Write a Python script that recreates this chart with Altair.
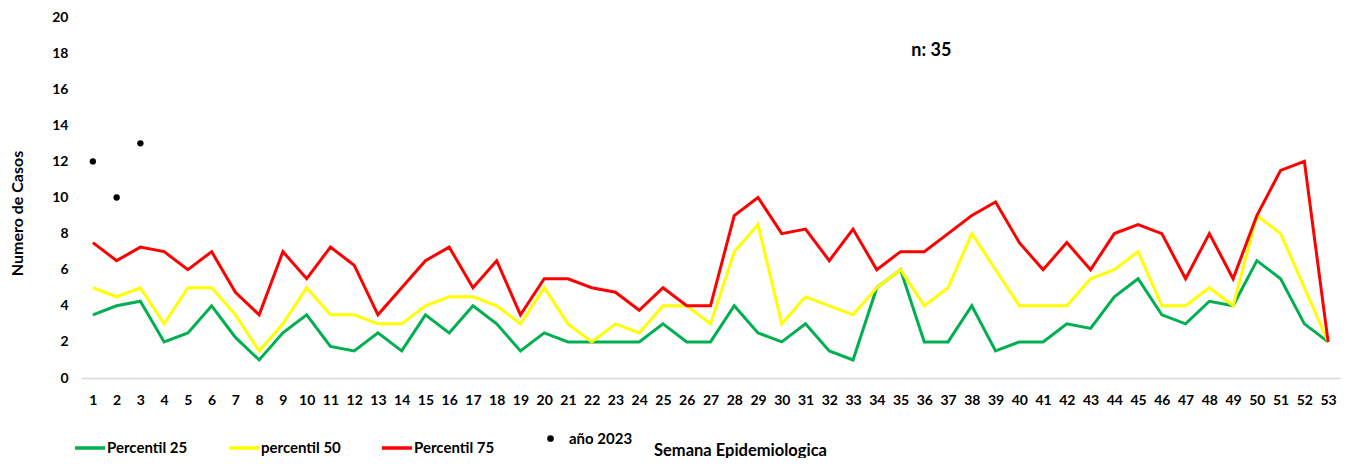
import altair as alt
import pandas as pd

FONT = "Lato"

weeks = list(range(1, 54))
p25 = [3.5, 4, 4.25, 2, 2.5, 4, 2.25, 1, 2.5, 3.5, 1.75, 1.5, 2.5, 1.5, 3.5, 2.5, 4, 3, 1.5, 2.5,
       2, 2, 2, 2, 3, 2, 2, 4, 2.5, 2, 3, 1.5, 1, 5, 6, 2, 2, 4, 1.5, 2,
       2, 3, 2.75, 4.5, 5.5, 3.5, 3, 4.25, 4, 6.5, 5.5, 3, 2]
p50 = [5, 4.5, 5, 3, 5, 5, 3.5, 1.5, 3, 5, 3.5, 3.5, 3, 3, 4, 4.5, 4.5, 4, 3, 5,
       3, 2, 3, 2.5, 4, 4, 3, 7, 8.5, 3, 4.5, 4, 3.5, 5, 6, 4, 5, 8, 6, 4,
       4, 4, 5.5, 6, 7, 4, 4, 5, 4, 9, 8, 5, 2]
p75 = [7.5, 6.5, 7.25, 7, 6, 7, 4.75, 3.5, 7, 5.5, 7.25, 6.25, 3.5, 5, 6.5, 7.25, 5, 6.5, 3.5, 5.5,
       5.5, 5, 4.75, 3.75, 5, 4, 4, 9, 10, 8, 8.25, 6.5, 8.25, 6, 7, 7, 8, 9, 9.75, 7.5,
       6, 7.5, 6, 8, 8.5, 8, 5.5, 8, 5.5, 9, 11.5, 12, 2]
weeks_2023 = [1, 2, 3]
cases_2023 = [12, 10, 13]

line_names = ["Percentil 25", "percentil 50", "Percentil 75"]
line_colors = ["#00b050", "#ffff00", "#ff0000"]
point_name = "año 2023"
week_labels = [str(w) for w in weeks]

rows = []
for name, vals in zip(line_names, [p25, p50, p75]):
    for w, v in zip(weeks, vals):
        rows.append({"week": str(w), "value": v, "series": name})
df = pd.DataFrame(rows)
df23 = pd.DataFrame({"week": [str(w) for w in weeks_2023], "value": cases_2023,
                     "serie": point_name})
note = pd.DataFrame({"week": ["36"], "value": [18.1], "label": ["n: 35"]})

x_enc = alt.X("week:O", sort=week_labels, scale=alt.Scale(domain=week_labels),
              axis=alt.Axis(title="Semana Epidemiologica", labelAngle=0, ticks=False,
                            domainColor="#d9d9d9", domainWidth=1.5, labelPadding=15,
                            labelFont=FONT, labelFontSize=14, labelFontWeight="bold",
                            labelColor="black", labelOverlap=False,
                            titleFont=FONT, titleFontSize=16.5,
                            titleFontWeight="bold", titleColor="black",
                            titleX=659, titleY=72, titleAlign="center",
                            titleBaseline="middle"))
y_enc = alt.Y("value:Q", scale=alt.Scale(domain=[0, 20], nice=False),
              axis=alt.Axis(title="Numero de Casos", values=list(range(0, 21, 2)),
                            grid=False, domain=False, ticks=False, labelPadding=13,
                            labelFont=FONT, labelFontSize=14, labelFontWeight="bold",
                            labelColor="black", labelOverlap=False,
                            titleFont=FONT, titleFontSize=16,
                            titleFontWeight="bold", titleColor="black",
                            titleX=-56, titleY=196, titleAngle=-90))

color_scale = alt.Scale(domain=line_names, range=line_colors)
line_legend = alt.Legend(
    orient="none", legendX=-8, legendY=414, direction="horizontal", title=None,
    symbolType="stroke", symbolStrokeWidth=3.5, symbolSize=900,
    labelFont=FONT, labelFontSize=15, labelFontWeight="bold", labelColor="black",
    columnPadding=34, labelOffset=0,
)
point_legend = alt.Legend(
    orient="none", legendX=462, legendY=414, direction="horizontal", title=None,
    symbolType="circle", symbolSize=45, symbolFillColor="black",
    symbolStrokeColor="black", symbolStrokeWidth=0,
    labelFont=FONT, labelFontSize=15, labelFontWeight="bold", labelColor="black",
    labelOffset=11,
)

layers = []
for i, name in enumerate(line_names):
    layers.append(
        alt.Chart(df).transform_filter(alt.datum.series == name)
        .mark_line(strokeWidth=3)
        .encode(x=x_enc, y=y_enc,
                color=alt.Color("series:N", scale=color_scale,
                                legend=line_legend if i == 0 else None))
    )

points = alt.Chart(df23).mark_point(size=40, filled=True, opacity=1,
                                    color="black").encode(
    x=x_enc, y=y_enc,
    shape=alt.Shape("serie:N", scale=alt.Scale(domain=[point_name], range=["circle"]),
                    legend=point_legend))

text = alt.Chart(note).mark_text(font=FONT, fontSize=18, fontWeight="bold",
                                 color="black", dx=7).encode(
    x=x_enc, y=y_enc, text="label:N")

chart = alt.layer(*layers, points, text).properties(
    width=1259, height=361,
    autosize=alt.AutoSizeParams(type="none"),
    padding={"left": 73, "top": 9, "right": 12, "bottom": 80},
).configure_view(stroke=None)

chart.save("out.html", embed_options={"renderer": "svg", "actions": False})
